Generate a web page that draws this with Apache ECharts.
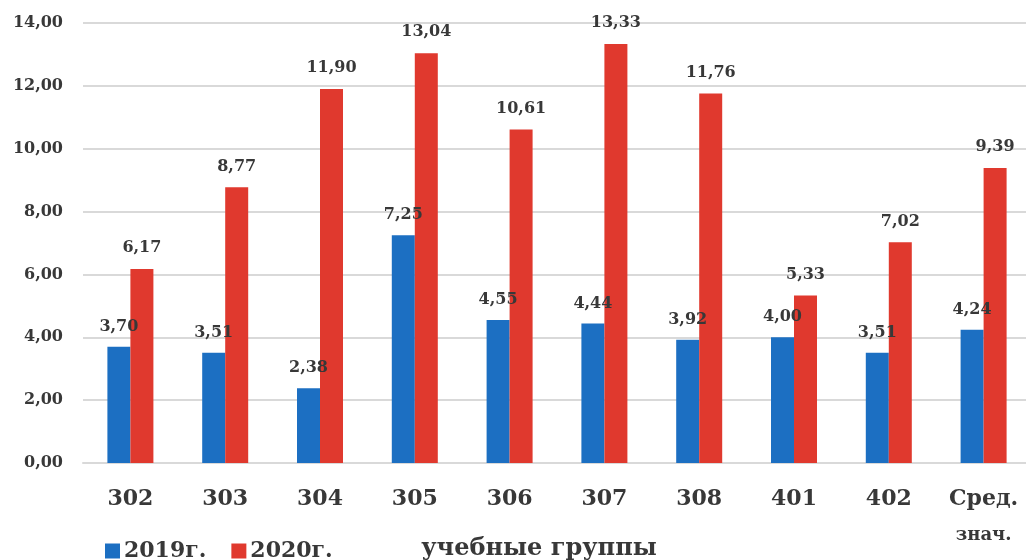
<!DOCTYPE html>
<html>
<head>
<meta charset="utf-8">
<script src="https://cdn.jsdelivr.net/npm/echarts@6/dist/echarts.min.js"></script>
<style>
  html, body { margin: 0; padding: 0; background: #ffffff; }
  #chart { width: 1026px; height: 560px; }
</style>
</head>
<body>
<div id="chart"></div>
<script>
// Учебные группы и показатели по годам
const groups = ['302', '303', '304', '305', '306', '307', '308', '401', '402', 'Сред.\nзнач.'];
const values2019 = [3.70, 3.51, 2.38, 7.25, 4.55, 4.44, 3.92, 4.00, 3.51, 4.24];
const values2020 = [6.17, 8.77, 11.90, 13.04, 10.61, 13.33, 11.76, 5.33, 7.02, 9.39];
const seriesNames = ['2019г.', '2020г.'];
const yTicks = [0, 2, 4, 6, 8, 10, 12, 14];

const fmt = v => v.toFixed(2).replace('.', ',');
const serif = '"DejaVu Serif", "Liberation Serif", serif';
const textColor = '#383838';

const labelStyle = {
  show: true,
  position: 'top',
  distance: 12,
  fontFamily: serif,
  fontWeight: 'bold',
  fontSize: 16,
  color: textColor,
  formatter: p => fmt(p.value)
};

const chart = echarts.init(document.getElementById('chart'));
chart.setOption({
  animation: false,
  backgroundColor: '#ffffff',
  grid: { left: 83, top: 23, width: 948, height: 440, containLabel: false, outerBoundsMode: 'none' },
  legend: {
    left: 100,
    top: 535,
    itemWidth: 15,
    itemHeight: 15,
    itemGap: 25,
    icon: 'rect',
    textStyle: { fontFamily: serif, fontWeight: 'bold', fontSize: 22, color: textColor, padding: [0, 0, 0, -1] },
    data: seriesNames
  },
  xAxis: {
    type: 'category',
    data: groups,
    name: 'учебные группы',
    nameLocation: 'middle',
    nameGap: 74,
    nameMoveOverlap: false,
    nameTextStyle: {
      fontFamily: serif, fontWeight: 'bold', fontSize: 24, color: textColor,
      padding: [0, 36, 0, 0]
    },
    axisLine: { show: true, lineStyle: { color: '#d9d9d9', width: 2 } },
    axisTick: { show: false },
    axisLabel: {
      interval: 0,
      margin: 24,
      fontFamily: serif,
      fontWeight: 'bold',
      fontSize: 22,
      color: textColor,
      lineHeight: 24,
      verticalAlign: 'top',
      formatter: v => {
        const parts = v.split('\n');
        return parts.length > 1 ? parts[0] + '\n{s|' + parts[1] + '}' : v;
      },
      rich: {
        s: { fontFamily: serif, fontWeight: 'bold', fontSize: 18, color: textColor, lineHeight: 48 }
      }
    }
  },
  yAxis: {
    type: 'value',
    min: yTicks[0],
    max: yTicks[yTicks.length - 1],
    interval: 2,
    axisLine: { show: false },
    axisTick: { show: false },
    splitLine: { lineStyle: { color: '#d9d9d9', width: 2 } },
    axisLabel: {
      margin: 20,
      fontFamily: serif,
      fontWeight: 'bold',
      fontSize: 16,
      color: textColor,
      formatter: v => fmt(v)
    }
  },
  series: [
    {
      name: seriesNames[0],
      type: 'bar',
      data: values2019,
      barWidth: 23,
      barGap: '0%',
      itemStyle: { color: '#1c6fc2' },
      label: labelStyle
    },
    {
      name: seriesNames[1],
      type: 'bar',
      data: values2020,
      barWidth: 23,
      barGap: '0%',
      itemStyle: { color: '#e0392e' },
      label: Object.assign({}, labelStyle, { distance: 13 })
    }
  ]
});
</script>
</body>
</html>
